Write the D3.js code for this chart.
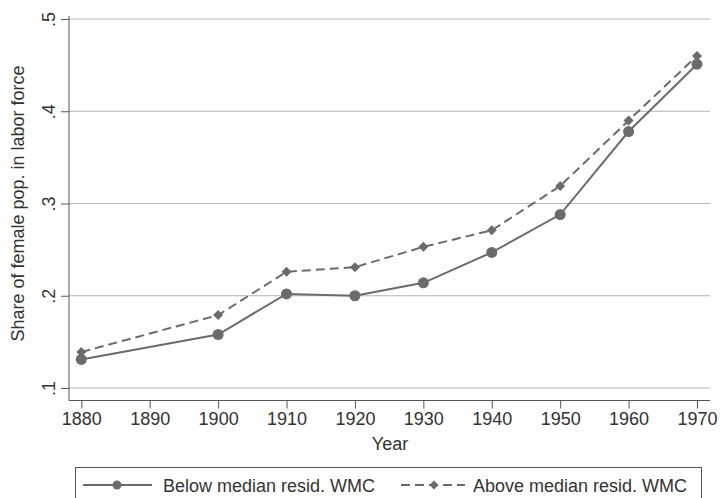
<!DOCTYPE html>
<html><head><meta charset="utf-8">
<script src="https://cdn.jsdelivr.net/npm/d3@7"></script>
<style>body{margin:0;background:#fff}svg{display:block}text{font-family:"Liberation Sans",Arial,sans-serif;fill:#333}</style>
</head><body>
<script>
const years = [1880, 1900, 1910, 1920, 1930, 1940, 1950, 1960, 1970];
const below = [0.131, 0.158, 0.202, 0.200, 0.214, 0.247, 0.288, 0.378, 0.451];
const above = [0.139, 0.179, 0.226, 0.231, 0.253, 0.271, 0.319, 0.390, 0.460];
const xTicks = [1880, 1890, 1900, 1910, 1920, 1930, 1940, 1950, 1960, 1970];
const yTicks = [0.1, 0.2, 0.3, 0.4, 0.5];
const yTickLabels = [".1", ".2", ".3", ".4", ".5"];
const seriesNames = ["Below median resid. WMC", "Above median resid. WMC"];

const W = 720, H = 498;
const svg = d3.select("body").append("svg").attr("width", W).attr("height", H);
const x = d3.scaleLinear().domain([1880, 1970]).range([81.3, 697]);
const y = d3.scaleLinear().domain([0.1, 0.5]).range([388, 19]);
const plotL = 69, plotR = 710, plotB = 400.5;
const col = "#6b6b6b";
const fs = 18;

// gridlines
svg.append("g").selectAll("line").data(yTicks).join("line")
  .attr("x1", plotL).attr("x2", plotR)
  .attr("y1", d => y(d)).attr("y2", d => y(d))
  .attr("stroke", "#b5b5b5").attr("stroke-width", 1);

// y axis
const ya = svg.append("g").attr("transform", `translate(${plotL},0)`)
  .call(d3.axisLeft(y).tickValues(yTicks).tickSize(8).tickFormat((d, i) => yTickLabels[i]));
ya.select(".domain").attr("d", `M0,${y(0.5) - 3}V${plotB}`).attr("stroke", "#555");
ya.selectAll(".tick line").attr("stroke", "#555");
ya.selectAll(".tick text").attr("font-size", fs).attr("fill", "#333")
  .attr("transform", "rotate(-90)").attr("x", 0).attr("y", -14)
  .attr("text-anchor", "middle").attr("dy", "0");

// x axis
const xa = svg.append("g").attr("transform", `translate(0,${plotB})`)
  .call(d3.axisBottom(x).tickValues(xTicks).tickSize(8).tickFormat(d3.format("d")));
xa.select(".domain").attr("d", `M${plotL},0H${plotR}`).attr("stroke", "#555");
xa.selectAll(".tick line").attr("stroke", "#555");
xa.selectAll(".tick text").attr("font-size", fs).attr("fill", "#333").attr("y", 24.5).attr("dy", "0");

// titles
svg.append("text").attr("x", 390).attr("y", 450).attr("text-anchor", "middle")
  .attr("font-size", fs).text("Year");
svg.append("text").attr("transform", `translate(23.5,${y(0.3)}) rotate(-90)`)
  .attr("text-anchor", "middle").attr("font-size", fs).text("Share of female pop. in labor force");

// lines
const line = d3.line().x((d, i) => x(years[i])).y(d => y(d));
svg.append("path").datum(below).attr("d", line).attr("fill", "none")
  .attr("stroke", col).attr("stroke-width", 2);
svg.append("path").datum(above).attr("d", line).attr("fill", "none")
  .attr("stroke", col).attr("stroke-width", 2).attr("stroke-dasharray", "9,5");

const diamond = s => `M0,${-s}L${s},0L0,${s}L${-s},0Z`;
svg.append("g").selectAll("circle").data(below).join("circle")
  .attr("cx", (d, i) => x(years[i])).attr("cy", d => y(d)).attr("r", 5.5).attr("fill", col);
svg.append("g").selectAll("path").data(above).join("path")
  .attr("transform", (d, i) => `translate(${x(years[i])},${y(d)})`)
  .attr("d", diamond(5)).attr("fill", col);

// legend
const lg = svg.append("g");
lg.append("rect").attr("x", 75.5).attr("y", 467.5).attr("width", 626).attr("height", 50)
  .attr("fill", "none").attr("stroke", "#555").attr("stroke-width", 1);
const ly = 485;
lg.append("line").attr("x1", 83).attr("x2", 152).attr("y1", ly).attr("y2", ly)
  .attr("stroke", col).attr("stroke-width", 2);
lg.append("circle").attr("cx", 117).attr("cy", ly).attr("r", 4.5).attr("fill", col);
lg.append("text").attr("x", 163).attr("y", 491.5).attr("font-size", fs).text(seriesNames[0]);
lg.append("line").attr("x1", 401).attr("x2", 465).attr("y1", ly).attr("y2", ly)
  .attr("stroke", col).attr("stroke-width", 2).attr("stroke-dasharray", "9,5");
lg.append("path").attr("transform", `translate(434,${ly})`).attr("d", diamond(4.5)).attr("fill", col);
lg.append("text").attr("x", 473).attr("y", 491.5).attr("font-size", fs).text(seriesNames[1]);
</script>
</body></html>
